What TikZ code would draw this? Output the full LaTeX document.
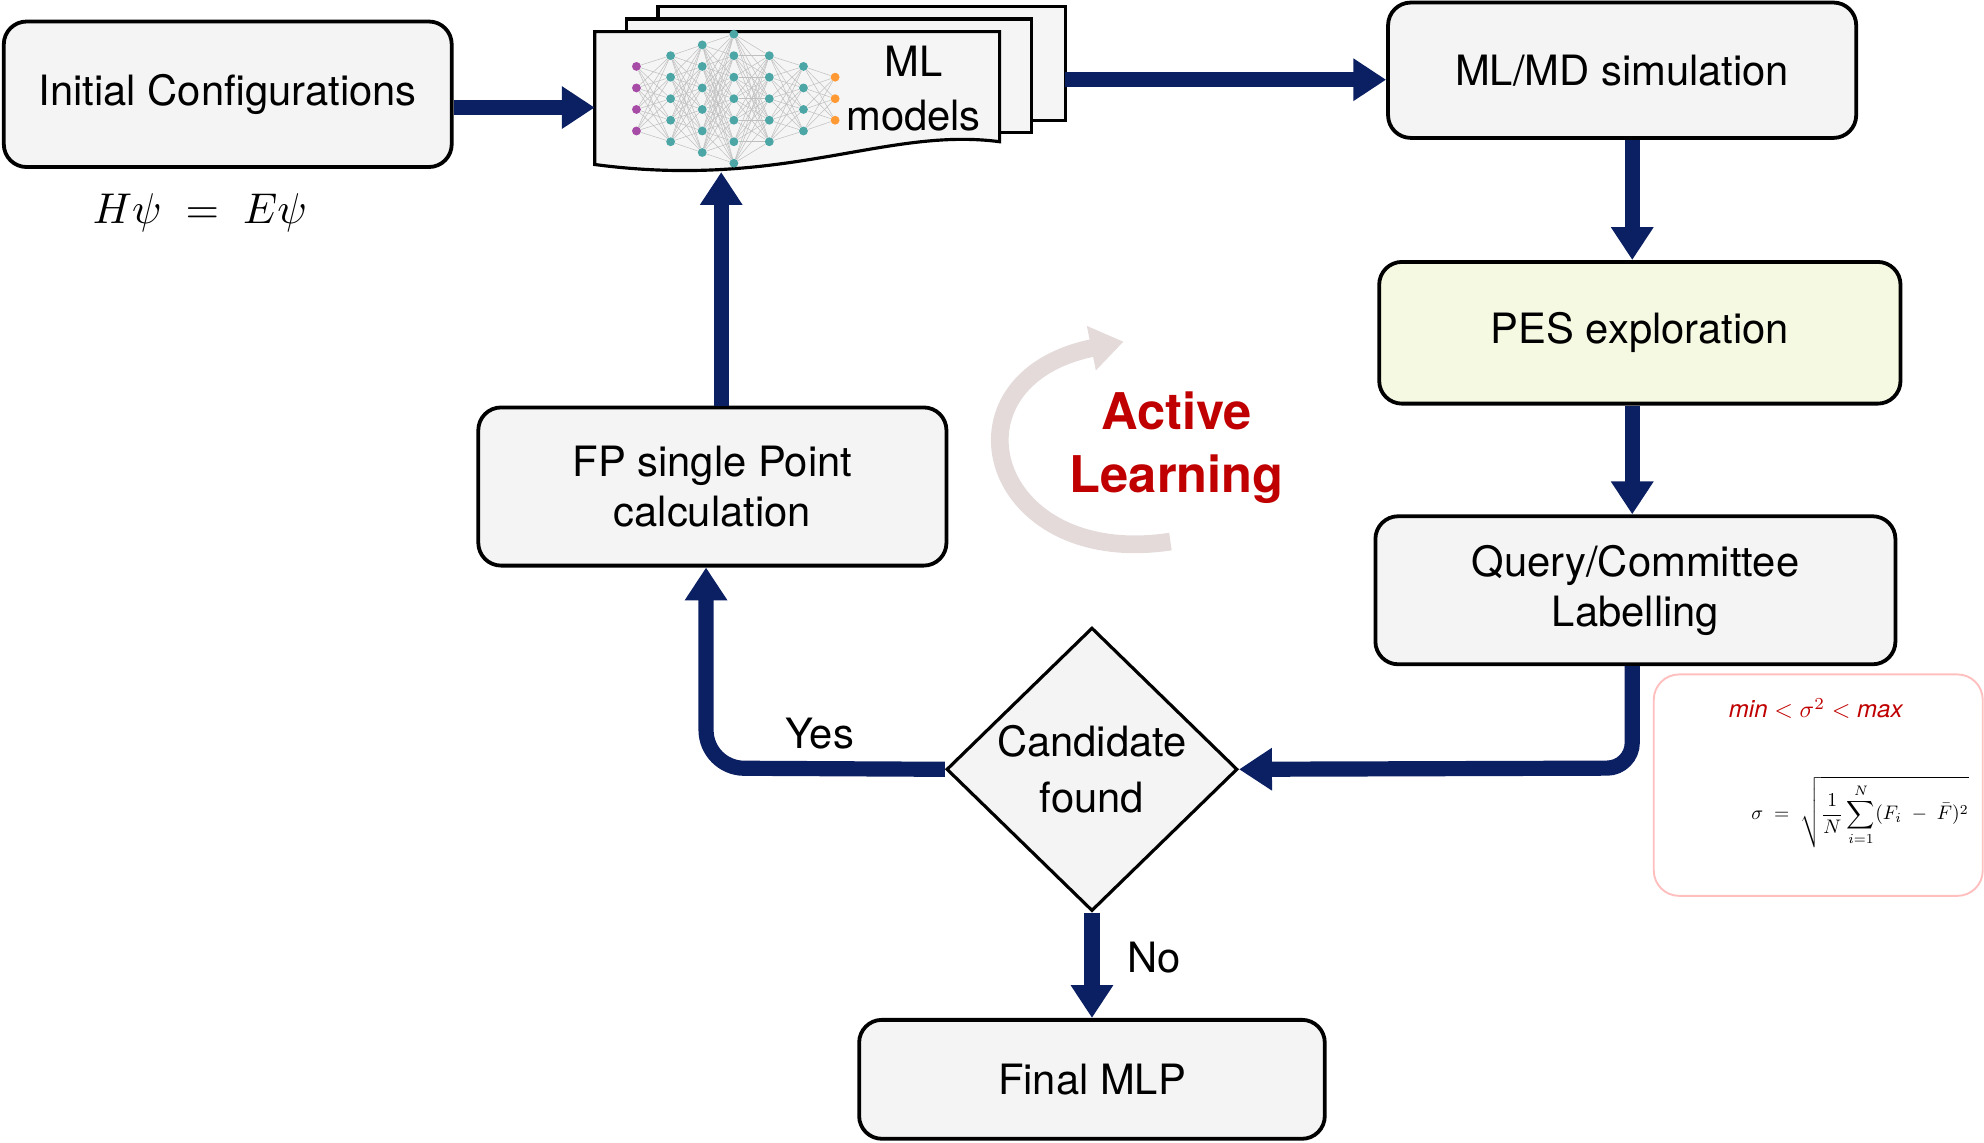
\documentclass[tikz,border=0pt]{standalone}
\usepackage{fontspec}
\usepackage{graphicx}
\setmainfont{TeX Gyre Heros}
\usetikzlibrary{arrows.meta,shapes.geometric}
\definecolor{navy}{HTML}{0B2063}
\definecolor{boxfill}{HTML}{F4F4F4}
\definecolor{pesfill}{HTML}{F6F9E1}
\definecolor{alred}{HTML}{C00000}
\tikzset{
 box/.style={draw=black,line width=3pt,rounded corners=18pt,fill=boxfill,align=center,font=\fontsize{33}{40}\selectfont,inner sep=0pt},
 flow/.style={draw=navy,line width=12pt,-{Triangle[length=26pt,width=32pt]}},
 sheet/.style={draw=black,line width=2.5pt,fill=gray!8},
 dot/.style={circle,inner sep=0pt,minimum size=7pt}
}
\begin{document}
\begin{tikzpicture}[x=1pt,y=-1pt]
\useasboundingbox (0,0) rectangle (1568,903);
% boxes
\node[box,minimum width=354pt,minimum height=115pt] (init) at (180,74.5) {Initial Configurations};
\node (eq) at (158,168) {\scalebox{3.4}{$H\psi\;=\;E\psi$}};
\node[box,minimum width=370pt,minimum height=107pt] (mlmd) at (1282,55.5) {ML/MD simulation};
\node[box,fill=pesfill,minimum width=412pt,minimum height=112pt] (pes) at (1296,263) {PES exploration};
\node[box,minimum width=411pt,minimum height=117pt] (query) at (1292.5,466.5) {Query/Committee\\Labelling};
\node[box,minimum width=370pt,minimum height=125pt] (fp) at (563,384.5) {FP single Point\\calculation};
\node[box,minimum width=368pt,minimum height=94pt] (final) at (863,853) {Final MLP};
\node[draw=black,line width=2.5pt,fill=boxfill,diamond,minimum width=230pt,minimum height=224pt,inner sep=0pt,align=center,font=\fontsize{33}{44}\selectfont] (cand) at (863,608) {Candidate\\found};
% ML models stack
\draw[sheet] (520,5) rectangle (842,95);
\draw[sheet] (495,15) rectangle (815,105);
\draw[sheet] (470,25) -- (790,25) -- (790,112) .. controls (700,100) and (620,150) .. (470,130) -- cycle;
\coordinate (mltop) at (570,136);
\coordinate (mlleft) at (470,85);
\coordinate (mlright) at (842,63);
% network dots
\foreach \x/\n/\c in {503/4/violet!70,530/5/teal!70,555/6/teal!70,580/7/teal!70,608/5/teal!70,635/4/teal!70,660/3/orange!80}{
  \foreach \i in {1,...,\n}{
    \node[dot,fill=\c] (d\x\i) at (\x,{78+(\i-(\n+1)/2)*17}) {};
  }
}
\foreach \i in {1,...,4}{\foreach \j in {1,...,5}{\draw[gray!50,line width=0.4pt] (d503\i)--(d530\j);}}
\foreach \i in {1,...,5}{\foreach \j in {1,...,6}{\draw[gray!50,line width=0.4pt] (d530\i)--(d555\j);}}
\foreach \i in {1,...,6}{\foreach \j in {1,...,7}{\draw[gray!50,line width=0.4pt] (d555\i)--(d580\j);}}
\foreach \i in {1,...,7}{\foreach \j in {1,...,5}{\draw[gray!50,line width=0.4pt] (d580\i)--(d608\j);}}
\foreach \i in {1,...,5}{\foreach \j in {1,...,4}{\draw[gray!50,line width=0.4pt] (d608\i)--(d635\j);}}
\foreach \i in {1,...,4}{\foreach \j in {1,...,3}{\draw[gray!50,line width=0.4pt] (d635\i)--(d660\j);}}
\node[align=center,font=\fontsize{33}{42}\selectfont] (mltxt) at (722,70) {ML\\models};
% arrows
\draw[flow] (init.east |- mlleft) -- (mlleft);
\draw[flow] (mlright) -- (mlright -| mlmd.west);
\draw[flow] (mlmd.south -| 1290,0) -- (pes.north -| 1290,0);
\draw[flow] (pes.south -| 1290,0) -- (query.north -| 1290,0);
\draw[flow,rounded corners=20pt] (query.south -| 1290,0) -- (1290,607) -- (cand.east);
\draw[flow,rounded corners=30pt] (cand.west) -- (558,607) -- (fp.south -| 558,0);
\draw[flow] (fp.north -| 570,0) -- (mltop);
\draw[flow] (cand.south) -- (final.north);
\node[font=\fontsize{33}{36}\selectfont] (yes) at (648,580) {Yes};
\node[font=\fontsize{33}{36}\selectfont] (no) at (912,757) {No};
% active learning
\draw[draw=red!15!gray!25,line width=14pt,-{Triangle[length=26pt,width=34pt]}] (925,428) .. controls (780,450) and (740,300) .. (888,270);
\node[align=center,text=alred,font=\fontsize{40}{50}\selectfont\bfseries] (al) at (930,354) {Active\\Learning};
% formula box
\node[draw=red!25,line width=1.5pt,rounded corners=20pt,fill=white,minimum width=260pt,minimum height=175pt] (fbox) at (1437,620.5) {};
\node[text=alred] (f1) at (1435,560) {\scalebox{1.9}{$\mathit{min}<\sigma^2<\mathit{max}$}};
\node (f2) at (1470,642) {\scalebox{1.55}{$\displaystyle\sigma\;=\;\sqrt{\frac{1}{N}\sum_{i=1}^{N}(F_i\;-\;\bar F)^2}$}};
\end{tikzpicture}
\end{document}
